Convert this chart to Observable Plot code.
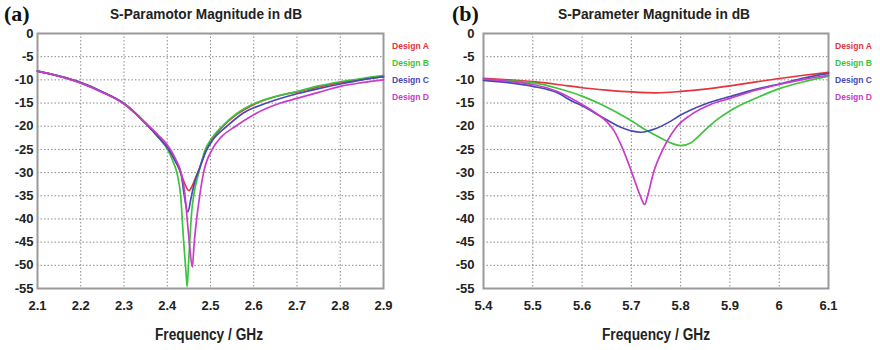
<!DOCTYPE html>
<html><head><meta charset="utf-8">
<script src="https://cdn.jsdelivr.net/npm/d3@7"></script>
<script src="https://cdn.jsdelivr.net/npm/@observablehq/plot@0.6"></script>
<style>
body{margin:0;background:#fff;}
#wrap{position:relative;width:880px;height:350px;overflow:hidden;background:#fff;}
#wrap > svg{position:absolute;top:0;}
</style></head><body><div id="wrap"></div>
<script>
const designs = ["Design A", "Design B", "Design C", "Design D"];
const colors = ["#e3343c", "#3cc43c", "#4848b6", "#c83cc8"];
const panelLabels = ["(a)", "(b)"];
const titles = ["S-Paramotor Magnitude in dB", "S-Parameter Magnitude in dB"];
const xLabel = "Frequency / GHz";
const yTicks = [0, -5, -10, -15, -20, -25, -30, -35, -40, -45, -50, -55];
const xTicksA = [2.1, 2.2, 2.3, 2.4, 2.5, 2.6, 2.7, 2.8, 2.9];
const xTicksB = [5.4, 5.5, 5.6, 5.7, 5.8, 5.9, 6.0, 6.1];

// Panel (a): [GHz, dB]
const aDesignA = [[2.1,-8.1],[2.15,-9.2],[2.2,-10.6],[2.25,-12.6],[2.3,-15.1],[2.35,-19.4],[2.38,-22.4],[2.4,-24.6],[2.42,-27.6],[2.43,-29.8],[2.44,-32.3],[2.45,-33.9],[2.458,-32.8],[2.466,-31],[2.475,-29],[2.488,-25.6],[2.5,-23.3],[2.527,-20.2],[2.56,-17.5],[2.605,-15.1],[2.672,-13.1],[2.7,-12.6],[2.75,-11.5],[2.8,-10.6],[2.85,-9.9],[2.9,-9.3]];
const aDesignB = [[2.1,-8.1],[2.15,-9.2],[2.2,-10.6],[2.25,-12.6],[2.3,-15.1],[2.35,-19.3],[2.38,-22.5],[2.4,-24.9],[2.415,-28],[2.423,-30.3],[2.431,-35],[2.438,-45],[2.443,-51],[2.446,-54.6],[2.449,-50],[2.452,-45],[2.456,-39],[2.462,-34.5],[2.473,-30],[2.488,-25],[2.5,-23],[2.527,-20],[2.56,-17.3],[2.604,-15],[2.65,-13.6],[2.7,-12.5],[2.75,-11.3],[2.8,-10.4],[2.85,-9.7],[2.9,-9.1]];
const aDesignC = [[2.1,-8.1],[2.15,-9.2],[2.2,-10.6],[2.25,-12.6],[2.3,-15.1],[2.35,-19.4],[2.38,-22.4],[2.4,-24.6],[2.42,-27.8],[2.432,-30.3],[2.44,-35.3],[2.4475,-38.5],[2.455,-35.5],[2.462,-32.5],[2.475,-29],[2.49,-25.3],[2.505,-23],[2.538,-20],[2.575,-17.2],[2.63,-15],[2.7,-13],[2.75,-11.9],[2.8,-10.9],[2.85,-10],[2.9,-9.3]];
const aDesignD = [[2.1,-8.1],[2.15,-9.2],[2.2,-10.7],[2.25,-12.7],[2.3,-15.2],[2.35,-19.3],[2.38,-22],[2.4,-24],[2.42,-27.2],[2.432,-30],[2.44,-34],[2.446,-40],[2.451,-45],[2.458,-50.4],[2.462,-45.5],[2.468,-40],[2.475,-35],[2.484,-30],[2.504,-25],[2.525,-22.3],[2.558,-20],[2.6,-17.5],[2.662,-15],[2.7,-14],[2.75,-12.7],[2.8,-11.4],[2.85,-10.6],[2.9,-10]];

// Panel (b): [GHz, dB]
const bDesignA = [[5.4,-9.7],[5.45,-10],[5.5,-10.4],[5.55,-11],[5.6,-11.7],[5.65,-12.2],[5.7,-12.6],[5.75,-12.8],[5.8,-12.5],[5.85,-12],[5.9,-11.3],[5.95,-10.5],[6,-9.7],[6.05,-9],[6.1,-8.4]];
const bDesignB = [[5.4,-10],[5.45,-10.2],[5.5,-10.6],[5.55,-11.8],[5.6,-13.5],[5.637,-15.2],[5.67,-17],[5.7,-18.8],[5.72,-20.2],[5.75,-22],[5.78,-23.6],[5.8,-24.2],[5.82,-23.6],[5.84,-21.8],[5.86,-19.8],[5.88,-18.1],[5.9,-16.7],[5.93,-15],[5.96,-13.6],[6,-11.9],[6.05,-10.4],[6.1,-9.2]];
const bDesignC = [[5.4,-10.1],[5.45,-10.6],[5.5,-11.4],[5.55,-12.8],[5.58,-14.6],[5.6,-15.6],[5.64,-18],[5.67,-19.8],[5.7,-21],[5.72,-21.3],[5.75,-20.5],[5.78,-18.9],[5.8,-17.6],[5.85,-15.2],[5.9,-13.6],[5.95,-12.1],[6,-10.9],[6.05,-9.6],[6.1,-8.6]];
const bDesignD = [[5.4,-9.8],[5.45,-10.3],[5.5,-11],[5.55,-12.5],[5.6,-15.3],[5.63,-17.3],[5.65,-19],[5.665,-21],[5.683,-25],[5.701,-30],[5.718,-35],[5.727,-36.9],[5.733,-35],[5.745,-30],[5.764,-25],[5.793,-20],[5.82,-17.6],[5.863,-15.2],[5.9,-14],[5.95,-12.3],[6,-11],[6.05,-9.9],[6.1,-9]];

const FONT = '"Liberation Sans",Arial,sans-serif';
const wrap = document.getElementById("wrap");

function toRows(seriesList) {
  const rows = [];
  seriesList.forEach((s, i) => s.forEach(([f, db]) => rows.push({f, db, design: designs[i]})));
  return rows;
}

function panel(seriesList, xTicks, left, mL, mR, yPad) {
  const rows = toRows(seriesList);
  const fmt = d => String(+d.toFixed(2));
  const chart = Plot.plot({
    width: 440, height: 350,
    marginTop: 33, marginBottom: 62, marginLeft: mL, marginRight: mR,
    x: {domain: [xTicks[0], xTicks[xTicks.length - 1]]},
    y: {domain: [-55, 0]},
    color: {domain: designs, range: colors},
    style: {fontFamily: FONT, fontSize: "13px", fontWeight: "bold", color: "#222", background: "transparent", overflow: "visible"},
    marks: [
      Plot.ruleX(xTicks, {stroke: "#8a8a8a", strokeWidth: 1, strokeDasharray: "1.5,2"}),
      Plot.ruleY(yTicks, {stroke: "#8a8a8a", strokeWidth: 1, strokeDasharray: "1.5,2"}),
      Plot.frame({stroke: "#9a9a9a", strokeWidth: 2}),
      Plot.line(rows, {x: "f", y: "db", z: "design", stroke: "design", strokeWidth: 1.7, curve: "monotone-x"}),
      Plot.axisX(xTicks, {tickSize: 0, tickPadding: 12, tickFormat: fmt, label: null}),
      Plot.axisY(yTicks, {tickSize: 0, tickPadding: yPad, tickFormat: fmt, label: null})
    ]
  });
  chart.style.left = left + "px";
  wrap.appendChild(chart);
}

panel([aDesignA, aDesignB, aDesignC, aDesignD], xTicksA, 0, 37, 57, 4);
panel([bDesignA, bDesignB, bDesignC, bDesignD], xTicksB, 440, 43, 52, 9);

// Overlay texts: panel labels, titles, axis titles, legends
const ov = d3.select(wrap).append("svg").attr("width", 880).attr("height", 350).style("left", "0px");
const panelsInfo = [
  {lx: 4, tx: 110, ax: 155, legX: 392},
  {lx: 452, tx: 558, ax: 602, legX: 835}
];
function fitText(x, y, str, size, len, fill) {
  ov.append("text").attr("x", x).attr("y", y).text(str)
    .attr("font-family", FONT).attr("font-weight", "bold").attr("font-size", size).attr("fill", fill)
    .attr("textLength", len).attr("lengthAdjust", "spacingAndGlyphs");
}
panelsInfo.forEach((p, i) => {
  ov.append("text").attr("x", p.lx).attr("y", 21).text(panelLabels[i])
    .attr("font-family", '"Liberation Serif","DejaVu Serif",serif').attr("font-weight", "bold").attr("font-size", 22).attr("fill", "#111");
  fitText(p.tx, 18.5, titles[i], 15.5, 192, "#222");
  fitText(p.ax, 340, xLabel, 16, 108, "#222");
  designs.forEach((d, j) => fitText(p.legX, 48.5 + j * 17, d, 9.8, 37, colors[j]));
});
</script>
</body></html>
